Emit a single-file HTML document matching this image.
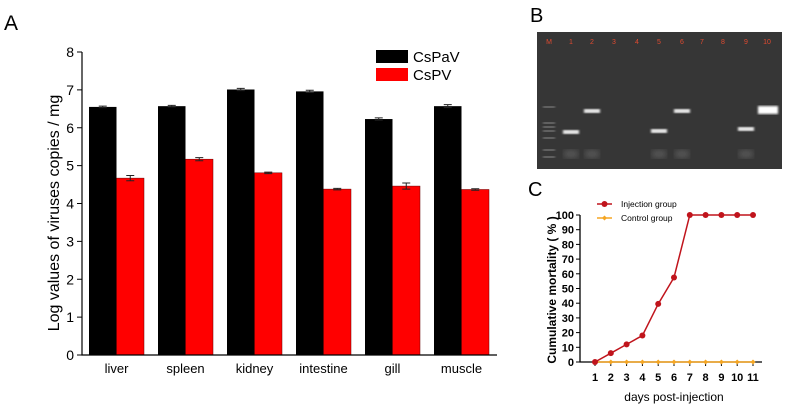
<!DOCTYPE html>
<html><head><meta charset="utf-8"><style>
body{margin:0;background:#fff;width:788px;height:407px;overflow:hidden;font-family:"Liberation Sans",Arial,sans-serif}
svg{display:block}
</style></head><body>
<svg id="s" width="788" height="407" xmlns="http://www.w3.org/2000/svg">
<text x="4" y="30" font-size="21">A</text>
<g id="ga"></g>
<text x="530" y="22" font-size="20">B</text>
<g id="gb"></g>
<text x="528" y="196" font-size="20">C</text>
<g id="gc"></g>
</svg>
<script>
const NS="http://www.w3.org/2000/svg";
function mk(p,t,a,txt){const e=document.createElementNS(NS,t);for(const k in a)e.setAttribute(k,a[k]);if(txt!==undefined)e.textContent=txt;p.appendChild(e);return e;}

// Panel A data
const categories=["liver","spleen","kidney","intestine","gill","muscle"];
const cspav=[6.55,6.57,7.01,6.96,6.23,6.57];
const cspavErr=[0.02,0.02,0.03,0.03,0.03,0.04];
const cspv=[4.67,5.17,4.81,4.38,4.46,4.37];
const cspvErr=[0.07,0.04,0.02,0.02,0.08,0.02];
const yTicksA=[0,1,2,3,4,5,6,7,8];

// Panel C data
const days=[1,2,3,4,5,6,7,8,9,10,11];
const injection=[0,6,12,18,39.5,57.5,100,100,100,100,100];
const control=[0,0,0,0,0,0,0,0,0,0,0];
const yTicksC=[0,10,20,30,40,50,60,70,80,90,100];

// Panel A
(function(){
const g=document.getElementById('ga');
const y0=355,y8=52,ax=82,ax2=497;
const y=v=>y0-(y0-y8)*v/8;
const x0=89,pitch=69,bw=27.5;
yTicksA.forEach(t=>{
 const l=mk(g,'line',{x1:ax-5,x2:ax,y1:y(t),y2:y(t),stroke:'#000'});
 
 const tx=mk(g,'text',{x:ax-8,y:y(t)+5,'font-size':14,'text-anchor':'end'},t);
 
});
categories.forEach((c,i)=>{
 const xb=x0+i*pitch;
 const b1=mk(g,'rect',{x:xb,y:y(cspav[i]),width:bw,height:y0-y(cspav[i]),fill:'#000'});
 
 const b2=mk(g,'rect',{x:xb+bw,y:y(cspv[i]),width:bw,height:y0-y(cspv[i]),fill:'#ff0000',stroke:'#600','stroke-width':0.5});
 
 [[xb+bw/2,cspav[i],cspavErr[i]],[xb+bw*1.5,cspv[i],cspvErr[i]]].forEach(([cx,v,e])=>{
  const eb=mk(g,'path',{d:`M${cx},${y(v+e)}V${y(v-e)}M${cx-4},${y(v+e)}h8M${cx-4},${y(v-e)}h8`,stroke:'#222','stroke-width':1,fill:'none'});
  
 });
 const lb=mk(g,'text',{x:xb+bw,y:373,'font-size':13,'text-anchor':'middle'},c);
 
});
const axl=mk(g,'path',{d:`M${ax},${y8}V${y0}H${ax2}`,stroke:'#000','stroke-width':1.2,fill:'none'});

const yt=mk(g,'text',{x:0,y:0,'font-size':16,'text-anchor':'middle',transform:'translate(59,213) rotate(-90)'},'Log values of viruses copies / mg');

const l1=mk(g,'rect',{x:376,y:50,width:32,height:13,fill:'#000'});

const l2=mk(g,'rect',{x:376,y:68,width:32,height:13,fill:'#ff0000'});

const t1=mk(g,'text',{x:413,y:62,'font-size':15},'CsPaV');

const t2=mk(g,'text',{x:413,y:80,'font-size':15},'CsPV');

})();

// Panel B gel
(function(){
const g=document.getElementById('gb');
const defs=mk(g,'defs',{});
const f=mk(defs,'filter',{id:'blur'});mk(f,'feGaussianBlur',{stdDeviation:1});
const f2=mk(defs,'filter',{id:'blur2'});mk(f2,'feGaussianBlur',{stdDeviation:3});
const bg=mk(g,'rect',{x:537,y:32,width:245,height:137,fill:'#363636'});

const lanes=['M','1','2','3','4','5','6','7','8','9','10'];
const lx=[549,571,592,614,637,659,682,702,723,746,767];
lanes.forEach((l,i)=>{
 const t=mk(g,'text',{x:lx[i],y:44,'font-size':7,fill:'#e04a30','text-anchor':'middle'},l);
 
});
[107,123,127,131,138,150,157].forEach(yy=>{mk(g,'rect',{x:543,y:yy-0.7,width:12,height:1.4,fill:'#999',filter:'url(#blur)'});});
[[571,132],[592,111],[659,131],[682,111],[746,129]].forEach(([x,yy])=>{
 const b=mk(g,'rect',{x:x-8,y:yy-2,width:16,height:4,fill:'#f2f2f2',filter:'url(#blur)'});
 
});
const big=mk(g,'rect',{x:758,y:106,width:20,height:8,fill:'#fff',filter:'url(#blur)'});

[571,592,659,682,746].forEach(x=>mk(g,'rect',{x:x-7,y:150,width:14,height:8,fill:'#555',filter:'url(#blur2)'}));
})();

// Panel C
(function(){
const g=document.getElementById('gc');
const X=d=>595+(d-1)*15.8;
const Y=v=>362-v*1.47;
yTicksC.forEach(t=>{
 mk(g,'line',{x1:576,x2:580,y1:Y(t),y2:Y(t),stroke:'#000'});
 const tx=mk(g,'text',{x:574,y:Y(t)+4,'font-size':11,'font-weight':'bold','text-anchor':'end'},t);
 
});
days.forEach(d=>{
 mk(g,'line',{x1:X(d),x2:X(d),y1:362,y2:366,stroke:'#000'});
 const tx=mk(g,'text',{x:X(d),y:381,'font-size':11,'font-weight':'bold','text-anchor':'middle'},d);
 
});
const axl=mk(g,'path',{d:`M580,${Y(100)}V362H762`,stroke:'#000','stroke-width':1.3,fill:'none'});

const ci=mk(g,'polyline',{points:days.map((d,i)=>X(d)+','+Y(control[i])).join(' '),stroke:'#f5a623','stroke-width':1.5,fill:'none'});

days.forEach((d,i)=>{const p=mk(g,'path',{d:`M${X(d)},${Y(control[i])-2.5}l2.5,2.5l-2.5,2.5l-2.5,-2.5z`,fill:'#f5a623'});
 });
const il=mk(g,'polyline',{points:days.map((d,i)=>X(d)+','+Y(injection[i])).join(' '),stroke:'#c0141c','stroke-width':1.5,fill:'none'});

days.forEach((d,i)=>{const c=mk(g,'circle',{cx:X(d),cy:Y(injection[i]),r:3,fill:'#c0141c'});
 });
mk(g,'line',{x1:597,x2:612,y1:204,y2:204,stroke:'#c0141c','stroke-width':1.5});
mk(g,'circle',{cx:604.5,cy:204,r:3,fill:'#c0141c'});
const lt1=mk(g,'text',{x:621,y:207,'font-size':8.5},'Injection group');

mk(g,'line',{x1:597,x2:612,y1:218,y2:218,stroke:'#f5a623','stroke-width':1.5});
mk(g,'path',{d:'M604.5,215.5l2.5,2.5l-2.5,2.5l-2.5,-2.5z',fill:'#f5a623'});
const lt2=mk(g,'text',{x:621,y:221,'font-size':8.5},'Control group');

const yt=mk(g,'text',{x:0,y:0,'font-size':12,'font-weight':'bold','text-anchor':'middle',transform:'translate(556,290) rotate(-90)'},'Cumulative mortality ( % )');

const xt=mk(g,'text',{x:674,y:401,'font-size':12,'text-anchor':'middle'},'days post-injection');

})();
</script>
</body></html>
